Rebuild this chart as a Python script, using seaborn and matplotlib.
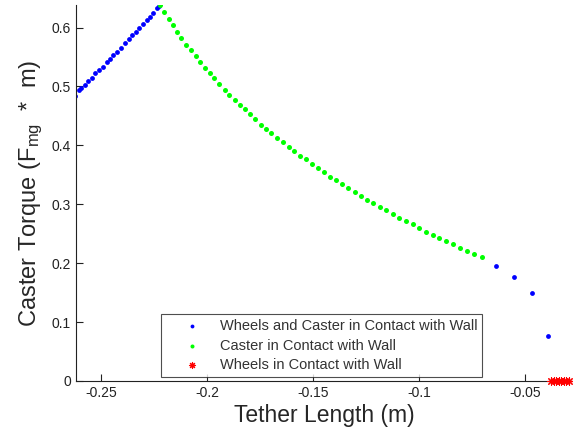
import numpy as np
import pandas as pd
import matplotlib
matplotlib.use("Agg")
import matplotlib.pyplot as plt
import seaborn as sns

# Wheels and caster in contact with wall (blue dots)
both_x = [-0.2622, -0.2603, -0.2592, -0.2576, -0.2561, -0.2543, -0.2526, -0.2508, -0.2492,
          -0.2473, -0.2457, -0.2442, -0.2423, -0.2405, -0.2388, -0.2369, -0.2353, -0.2335,
          -0.2319, -0.2300, -0.2283, -0.2269, -0.2253, -0.2237, -0.2228,
          -0.0637, -0.0554, -0.0469, -0.0391]
both_y = [0.484, 0.494, 0.498, 0.503, 0.509, 0.515, 0.522, 0.528, 0.533,
          0.541, 0.546, 0.553, 0.559, 0.566, 0.573, 0.580, 0.587, 0.593,
          0.600, 0.606, 0.613, 0.618, 0.625, 0.633, 0.636,
          0.196, 0.177, 0.149, 0.076]

# Caster in contact with wall (green dots)
caster_x = [-0.2221, -0.2204, -0.2180, -0.2160, -0.2143, -0.2121, -0.2099, -0.2077, -0.2053,
            -0.2033, -0.2011, -0.1987, -0.1966, -0.1942, -0.1917, -0.1895, -0.1868, -0.1844,
            -0.1820, -0.1797, -0.1772, -0.1746, -0.1722, -0.1697, -0.1670, -0.1642, -0.1615,
            -0.1589, -0.1560, -0.1533, -0.1504, -0.1477, -0.1447, -0.1420, -0.1392, -0.1362,
            -0.1334, -0.1304, -0.1274, -0.1246, -0.1216, -0.1185, -0.1155, -0.1123, -0.1094,
            -0.1062, -0.1031, -0.1000, -0.0968, -0.0936, -0.0905, -0.0872, -0.0839, -0.0806,
            -0.0773, -0.0740, -0.0705]
caster_y = [0.638, 0.626, 0.615, 0.604, 0.592, 0.583, 0.571, 0.562, 0.551,
            0.541, 0.531, 0.522, 0.514, 0.505, 0.494, 0.486, 0.477, 0.469,
            0.461, 0.453, 0.444, 0.435, 0.427, 0.421, 0.413, 0.405, 0.397,
            0.390, 0.382, 0.376, 0.369, 0.362, 0.354, 0.347, 0.341, 0.335,
            0.327, 0.320, 0.314, 0.307, 0.302, 0.296, 0.290, 0.284, 0.277,
            0.271, 0.266, 0.260, 0.253, 0.248, 0.242, 0.237, 0.232, 0.226,
            0.221, 0.215, 0.211]

# Wheels in contact with wall (red stars)
wheels_x = [-0.0378, -0.0366, -0.0354, -0.0342, -0.0330, -0.0318, -0.0306, -0.0295]
wheels_y = [0, 0, 0, 0, 0, 0, 0, 0]

sns.set_style("ticks")
plt.rcParams["font.family"] = ["Liberation Sans", "DejaVu Sans"]
plt.rcParams["mathtext.fontset"] = "custom"
plt.rcParams["mathtext.rm"] = "Liberation Sans"
plt.rcParams["mathtext.it"] = "Liberation Sans"

fig = plt.figure(figsize=(5.73, 4.30), dpi=100)
ax = fig.add_axes([0.1326, 0.114, 0.8654, 0.874])

sns.scatterplot(x=both_x, y=both_y, ax=ax, color="#0000ff", marker="o", s=12,
                linewidth=0, label="Wheels and Caster in Contact with Wall")
sns.scatterplot(x=caster_x, y=caster_y, ax=ax, color="#00ff00", marker="o", s=13,
                linewidth=0, label="Caster in Contact with Wall")
sns.scatterplot(x=wheels_x, y=wheels_y, ax=ax, color="#ff0000", marker=(8, 2, 0), s=30,
                linewidth=0.8, edgecolor="#ff0000", label="Wheels in Contact with Wall",
                clip_on=False, zorder=5)

ax.set_xlim(-0.2617, -0.028)
ax.set_ylim(0, 0.638)
ax.set_xticks([-0.25, -0.2, -0.15, -0.1, -0.05])
ax.set_xticklabels(["-0.25", "-0.2", "-0.15", "-0.1", "-0.05"])
ax.set_yticks([0, 0.1, 0.2, 0.3, 0.4, 0.5, 0.6])
ax.set_yticklabels(["0", "0.1", "0.2", "0.3", "0.4", "0.5", "0.6"])
ax.tick_params(direction="in", length=5, width=0.8, labelsize=10, colors="#222222")
sns.despine(ax=ax)
for s in ["left", "bottom"]:
    ax.spines[s].set_linewidth(0.8)
    ax.spines[s].set_color("#222222")

ax.set_xlabel("Tether Length (m)", fontsize=16.5, labelpad=3)
ax.set_ylabel(r"Caster Torque (F$_{\mathrm{mg}}$  *  m)", fontsize=17, labelpad=5)

leg = ax.legend(loc="lower left", bbox_to_anchor=(0.281, 0.123, 0.560, 0.151),
                bbox_transform=fig.transFigure, mode="expand", fontsize=10.5,
                frameon=True, fancybox=False, edgecolor="#222222",
                borderpad=0.35, labelspacing=0.37, handletextpad=0.1,
                markerscale=0.8, handlelength=3.6, borderaxespad=0)
leg.get_frame().set_linewidth(0.8)
for t in leg.get_texts():
    t.set_color("#333333")

fig.savefig("out.png", dpi=100)
